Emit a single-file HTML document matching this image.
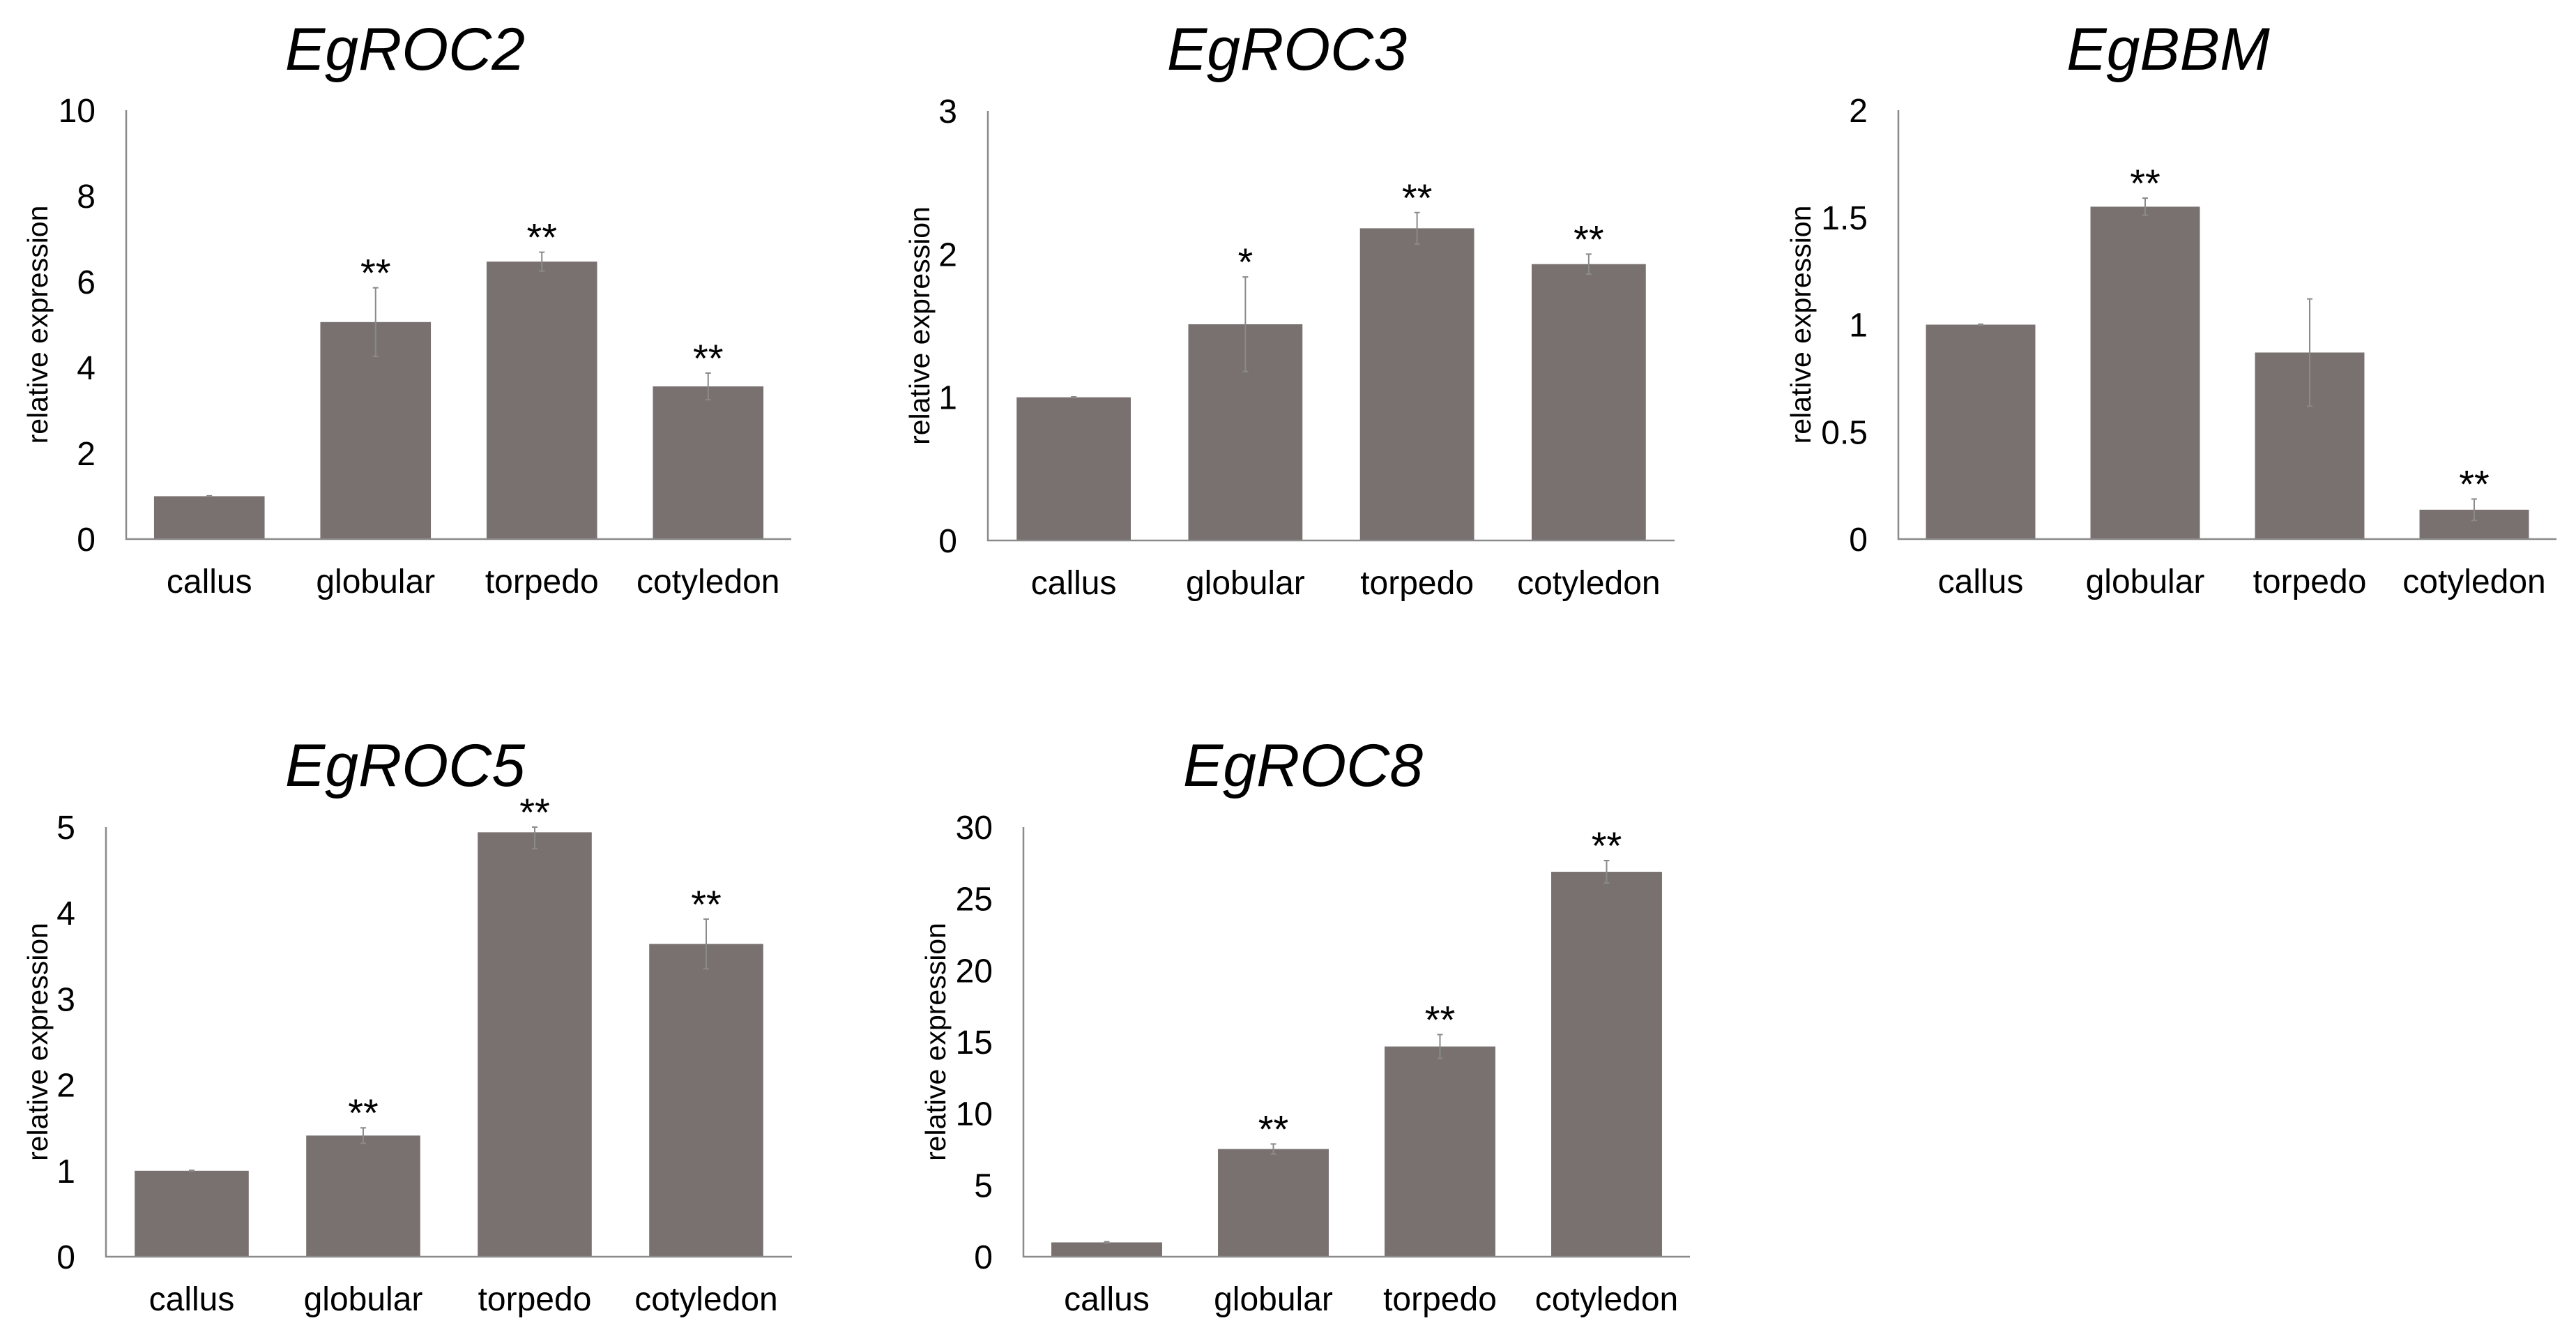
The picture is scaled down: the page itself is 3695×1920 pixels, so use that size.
<!DOCTYPE html>
<html><head><meta charset="utf-8"><style>
html,body{margin:0;padding:0;background:#fff;}
svg{display:block;}
text{font-family:"Liberation Sans",Arial,sans-serif;}
</style></head><body>
<svg id="fig" width="3695" height="1920" viewBox="0 0 3695 1920" xmlns="http://www.w3.org/2000/svg"></svg>
<script>
const categories = ["callus","globular","torpedo","cotyledon"];
const roc2Values = [1.0, 5.06, 6.47, 3.56];
const roc2Errors = [0.01, 0.8, 0.22, 0.31];
const roc2Stars = ["", "**", "**", "**"];
const roc2Ticks = ["0","2","4","6","8","10"];
const roc3Values = [1.0, 1.51, 2.18, 1.93];
const roc3Errors = [0.003, 0.33, 0.11, 0.07];
const roc3Stars = ["", "*", "**", "**"];
const roc3Ticks = ["0","1","2","3"];
const bbmValues = [1.0, 1.55, 0.87, 0.137];
const bbmErrors = [0.002, 0.04, 0.25, 0.05];
const bbmStars = ["", "**", "", "**"];
const bbmTicks = ["0","0.5","1","1.5","2"];
const roc5Values = [1.0, 1.41, 4.94, 3.64];
const roc5Errors = [0.005, 0.09, 0.19, 0.29];
const roc5Stars = ["", "**", "**", "**"];
const roc5Ticks = ["0","1","2","3","4","5"];
const roc8Values = [1.0, 7.52, 14.68, 26.88];
const roc8Errors = [0.05, 0.35, 0.83, 0.78];
const roc8Stars = ["", "**", "**", "**"];
const roc8Ticks = ["0","5","10","15","20","25","30"];

const NS = "http://www.w3.org/2000/svg";
const svg = document.getElementById('fig');
function mk(tag, attrs, parent){
  const e = document.createElementNS(NS, tag);
  for (const k in attrs) e.setAttribute(k, attrs[k]);
  parent.appendChild(e);
  return e;
}
function drawChart(cfg){
  const g = mk('g', {}, svg);
  
  
  const max = parseFloat(cfg.ticks[cfg.ticks.length-1]);
  const y = v => cfg.base - (Math.min(v, max) / max) * (cfg.base - cfg.top);
  const step = (cfg.right - cfg.left) / categories.length;
  const bw = step * 0.665;
  const t = mk('text', {x: cfg.titleX, y: cfg.titleY, 'font-size': 86, 'font-style': 'italic', 'text-anchor': 'middle', fill: '#000'}, g);
  t.textContent = cfg.title;
  
  
  cfg.ticks.forEach(tk => {
    const tx = mk('text', {x: cfg.left - 44, y: y(parseFloat(tk)) + 17, 'font-size': 48, 'text-anchor': 'end', fill: '#000'}, g);
    tx.textContent = tk;
    
    
  });
  const yt = mk('text', {x: 0, y: 0, 'font-size': 41, 'text-anchor': 'middle', fill: '#000',
    transform: `translate(${cfg.left - cfg.ytOff + 14},${(cfg.top + cfg.base)/2}) rotate(-90)`}, g);
  yt.textContent = 'relative expression';
  
  
  categories.forEach((c, i) => {
    const cx = cfg.left + step * (i + 0.5);
    const v = cfg.values[i];
    const bar = mk('rect', {x: cx - bw/2, y: y(v), width: bw, height: cfg.base - y(v), fill: '#78716f'}, g);
    
    
    const e = cfg.errors[i];
    const hi = y(v + e), lo = y(v - e);
    const eb = mk('path', {d: `M${cx},${hi}V${lo}M${cx-4},${hi}H${cx+4}M${cx-4},${lo}H${cx+4}`, stroke: '#8a8a8a', 'stroke-width': 2, fill: 'none'}, g);
    
    
    if (cfg.stars[i]) {
      const st = mk('text', {x: cx, y: y(v + e) - 2, 'font-size': 56, 'text-anchor': 'middle', fill: '#000'}, g);
      st.textContent = cfg.stars[i];
      
      
    }
    const xl = mk('text', {x: cx, y: cfg.base + 77, 'font-size': 48, 'text-anchor': 'middle', fill: '#000'}, g);
    xl.textContent = c;
    
    
  });
  const ax = mk('path', {d: `M${cfg.left},${cfg.top}V${cfg.base}H${cfg.right}`, stroke: '#8a8a8a', 'stroke-width': 2.5, fill: 'none'}, g);
  
  
}
drawChart({name:'chart-egroc2', title:'EgROC2', values:roc2Values, errors:roc2Errors, stars:roc2Stars, ticks:roc2Ticks,
  left:181, right:1135, top:158, base:773, titleX:581, titleY:100, ytOff:127});
drawChart({name:'chart-egroc3', title:'EgROC3', values:roc3Values, errors:roc3Errors, stars:roc3Stars, ticks:roc3Ticks,
  left:1417, right:2402, top:159, base:775, titleX:1846, titleY:100, ytOff:98});
drawChart({name:'chart-egbbm', title:'EgBBM', values:bbmValues, errors:bbmErrors, stars:bbmStars, ticks:bbmTicks,
  left:2723, right:3667, top:158, base:773, titleX:3110, titleY:100, ytOff:140});
drawChart({name:'chart-egroc5', title:'EgROC5', values:roc5Values, errors:roc5Errors, stars:roc5Stars, ticks:roc5Ticks,
  left:152, right:1136, top:1186, base:1802, titleX:581, titleY:1127, ytOff:98});
drawChart({name:'chart-egroc8', title:'EgROC8', values:roc8Values, errors:roc8Errors, stars:roc8Stars, ticks:roc8Ticks,
  left:1468, right:2424, top:1186, base:1802, titleX:1869, titleY:1127, ytOff:126});
</script>
</body></html>
